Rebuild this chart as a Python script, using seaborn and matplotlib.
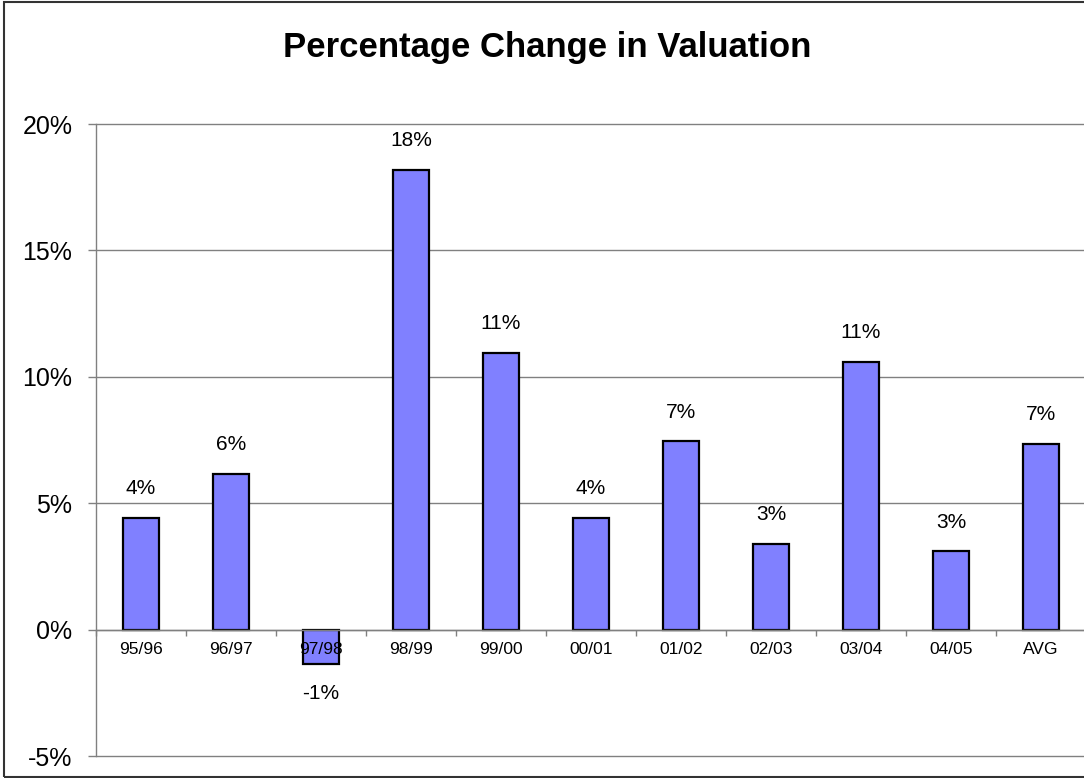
import matplotlib
matplotlib.use("Agg")
import matplotlib.pyplot as plt
import matplotlib.patches as mpatches
from matplotlib.ticker import FuncFormatter, FixedLocator
import seaborn as sns
import pandas as pd

periods = ["95/96", "96/97", "97/98", "98/99", "99/00", "00/01", "01/02", "02/03", "03/04", "04/05", "AVG"]
change_pct = [4.43, 6.17, -1.38, 18.2, 10.96, 4.43, 7.45, 3.40, 10.6, 3.09, 7.36]
y_ticks = [-5, 0, 5, 10, 15, 20]
title = "Percentage Change in Valuation"

df = pd.DataFrame({"period": periods, "change": change_pct})

sns.set_theme(style="white")
plt.rcParams["font.family"] = ["Liberation Sans", "DejaVu Sans"]

W, H = 1084, 778
fig = plt.figure(figsize=(W / 100, H / 100), dpi=100)
ax = fig.add_axes([96 / W, 1 - 756 / H, 990 / W, 632 / H])

sns.barplot(data=df, x="period", y="change", color="#8080FF", width=0.4,
            edgecolor="black", linewidth=1.6, saturation=1, ax=ax)
for p in ax.patches:
    p.set_facecolor("#8080FF")

ax.set_xlim(-0.5, len(periods) - 0.5)
ax.set_ylim(y_ticks[0], y_ticks[-1])
ax.set_yticks(y_ticks)
ax.yaxis.set_major_formatter(FuncFormatter(lambda v, _: f"{v:.0f}%"))
ax.set_xlabel("")
ax.set_ylabel("")

ax.grid(axis="y", color="#808080", linewidth=1.0)
ax.set_axisbelow(True)
for gl in ax.get_ygridlines():
    gl.set_clip_on(False)
ax.xaxis.set_zorder(5)

for s in ["top", "right"]:
    ax.spines[s].set_visible(False)
ax.spines["left"].set_color("#808080")
ax.spines["left"].set_linewidth(1.0)
ax.spines["bottom"].set_position(("data", 0))
ax.spines["bottom"].set_color("#808080")
ax.spines["bottom"].set_linewidth(1.0)

ax.tick_params(axis="y", which="major", direction="out", length=6, width=1.0,
               color="#808080", pad=11, labelsize=18, labelcolor="black", left=True)
ax.xaxis.set_minor_locator(FixedLocator([i - 0.5 for i in range(len(periods) + 1)]))
ax.tick_params(axis="x", which="minor", direction="out", length=4, width=1.0,
               color="#808080", bottom=True)
ax.tick_params(axis="x", which="major", length=0, pad=9, labelsize=12.5,
               labelcolor="black")

ax.bar_label(ax.containers[0], labels=[f"{v:.0f}%" for v in change_pct],
             padding=14, fontsize=15, color="black")

fig.text(547 / W, 1 - 48 / H, title, ha="center", va="center",
         fontsize=25, fontweight="bold", color="black")

border = mpatches.Rectangle((3.5 / W, 1 - 777 / H), 1.2, (777 - 1.5) / H,
                            transform=fig.transFigure, fill=False,
                            edgecolor="#333333", linewidth=1.5)
fig.patches.append(border)

fig.savefig("out.png", dpi=100)
